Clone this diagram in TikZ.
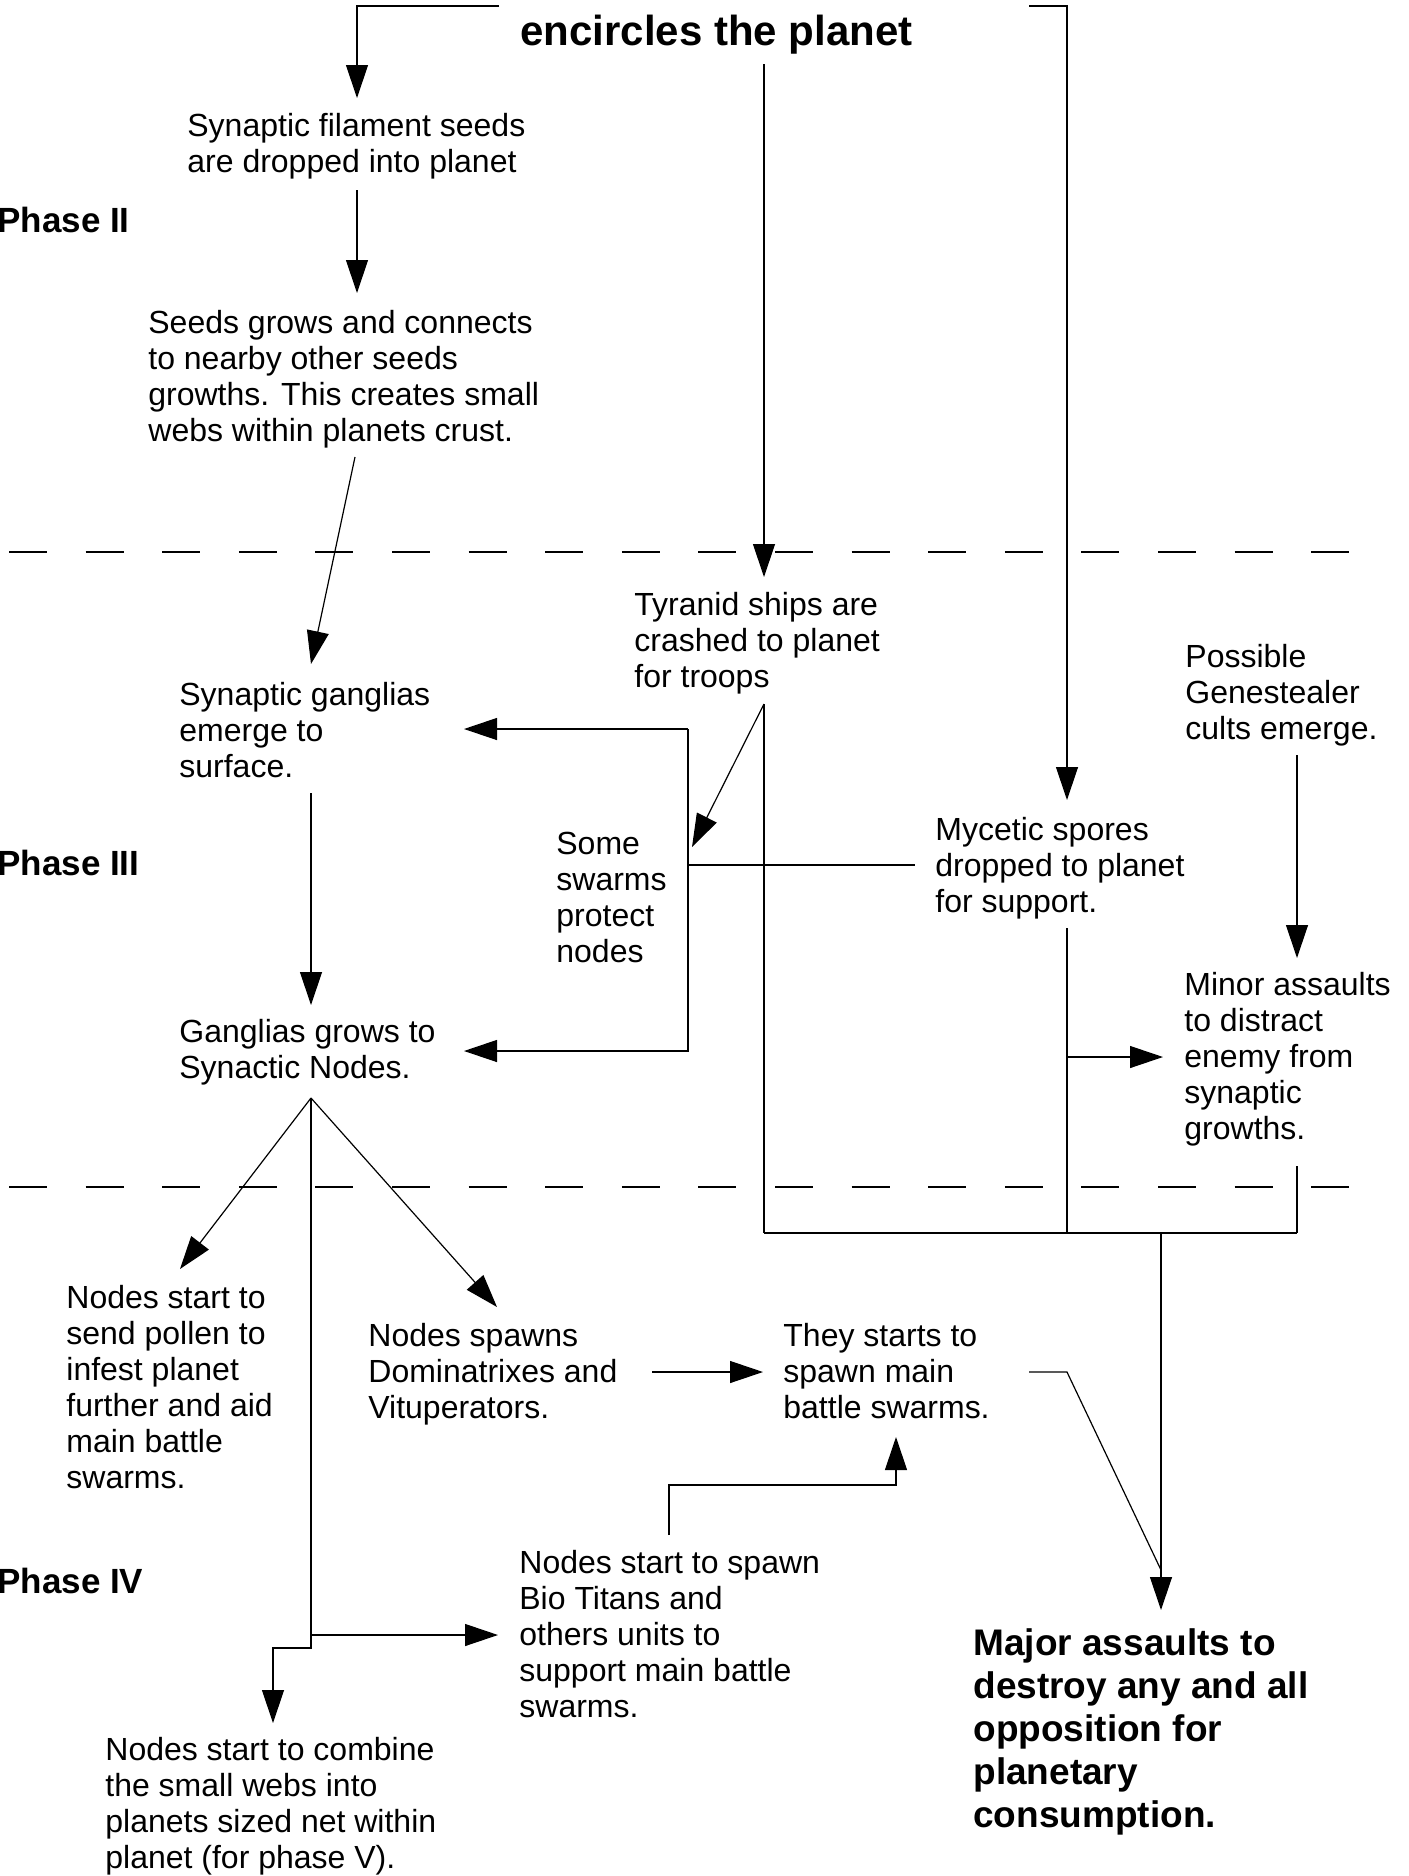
\documentclass[tikz,border=0pt]{standalone}
\usepackage{fontspec}
\setmainfont{Liberation Sans}
\usetikzlibrary{arrows.meta}
\usetikzlibrary{calc}

\tikzset{
  txt/.style={anchor=base west, align=left, inner sep=0pt, font=\fontsize{16}{18}\selectfont},
  bigtxt/.style={anchor=base west, align=left, inner sep=0pt, font=\fontsize{18.5}{21.5}\selectfont\bfseries},
  phaselbl/.style={anchor=base west, inner sep=0pt, font=\fontsize{17.5}{21}\selectfont\bfseries},
  conn/.style={line width=0.6pt},
  arr/.style={conn, -{Triangle[length=16.5pt,width=11pt]}},
  divider/.style={line width=0.6pt, dash pattern=on 19pt off 19.3pt},
}

\begin{document}
\begin{tikzpicture}[x=0.5pt,y=-0.5pt]
\clip (0,0) rectangle (1409,1876);

% phase dividers
\draw[divider] (9,552) -- (1351,552);
\draw[divider] (9,1187) -- (1351,1187);

% labels (placed at the baseline of their last line)
\node[anchor=base west, inner sep=0pt, font=\fontsize{21}{24}\selectfont\bfseries] (title) at (520,45) {encircles the planet};
\node[phaselbl] (phaseii) at (-3,232) {Phase II};
\node[phaselbl] (phaseiii) at (-3,875) {Phase III};
\node[phaselbl] (phaseiv) at (-3,1593) {Phase IV};

\node[txt] (filament) at (187,172) {Synaptic filament seeds\\are dropped into planet};
\node[txt] (seeds) at (148,441) {Seeds grows and connects\\to nearby other seeds\\growths. This creates small\\webs within planets crust.};
\node[txt] (tyranid) at (634,687) {Tyranid ships are\\crashed to planet\\for troops};
\node[txt] (genest) at (1185,739) {Possible\\Genestealer\\cults emerge.};
\node[txt] (ganglia) at (179,777) {Synaptic ganglias\\emerge to\\surface.};
\node[txt] (mycetic) at (935,912) {Mycetic spores\\dropped to planet\\for support.};
\node[txt] (swarms) at (556,962) {Some\\swarms\\protect\\nodes};
\node[txt] (minor) at (1184,1139) {Minor assaults\\to distract\\enemy from\\synaptic\\growths.};
\node[txt] (nodes) at (179,1078) {Ganglias grows to\\Synactic Nodes.};
\node[txt] (pollen) at (66,1488) {Nodes start to\\send pollen to\\infest planet\\further and aid\\main battle\\swarms.};
\node[txt] (spawns) at (368,1418) {Nodes spawns\\Dominatrixes and\\Vituperators.};
\node[txt] (starts) at (783,1418) {They starts to\\spawn main\\battle swarms.};
\node[txt] (titans) at (519,1717) {Nodes start to spawn\\Bio Titans and\\others units to\\support main battle\\swarms.};
\node[bigtxt] (major) at (973,1827) {Major assaults to\\destroy any and all\\opposition for\\planetary\\consumption.};
\node[txt] (combine) at (105,1868) {Nodes start to combine\\the small webs into\\planets sized net within\\planet (for phase V).};

% connector points
\coordinate (t1) at (499,6);   \coordinate (t2) at (357,6);   \coordinate (t3) at (357,98);
\coordinate (m1) at (764,64);  \coordinate (m2) at (764,577);
\coordinate (r1) at (1029,6);  \coordinate (r2) at (1067,6);  \coordinate (r3) at (1067,800);
\coordinate (s1) at (357,190); \coordinate (s2) at (357,293);
\coordinate (g1) at (355,457); \coordinate (g2) at (311,664);
\coordinate (e1) at (311,793); \coordinate (e2) at (311,1005);
\coordinate (ty1) at (764,704); \coordinate (ty2) at (692,847); \coordinate (ty3) at (764,1233);
\coordinate (b1) at (688,729); \coordinate (b2) at (464,729); \coordinate (b3) at (688,1051);
\coordinate (b4) at (464,1051); \coordinate (b5) at (688,865); \coordinate (b6) at (915,865);
\coordinate (my1) at (1067,928); \coordinate (my2) at (1067,1233);
\coordinate (my3) at (1067,1057); \coordinate (my4) at (1163,1057);
\coordinate (gs1) at (1297,755); \coordinate (gs2) at (1297,958);
\coordinate (mi1) at (1297,1166); \coordinate (mi2) at (1297,1233);
\coordinate (f1) at (1161,1233); \coordinate (f2) at (1161,1610);
\coordinate (th1) at (1029,1372); \coordinate (th2) at (1067,1372); \coordinate (th3) at (1161,1570);
\coordinate (ap) at (311,1098); \coordinate (p1) at (180,1269); \coordinate (p2) at (497,1307);
\coordinate (v1) at (311,1648); \coordinate (v2) at (273,1648); \coordinate (v3) at (273,1723);
\coordinate (v4) at (311,1635); \coordinate (v5) at (498,1635);
\coordinate (d1) at (652,1372); \coordinate (d2) at (763,1372);
\coordinate (bt1) at (669,1535); \coordinate (bt2) at (669,1485);
\coordinate (bt3) at (896,1485); \coordinate (bt4) at (896,1437);

% phase II
\draw[arr] (t1) -- (t2) -- (t3);
\draw[arr] (m1) -- (m2);
\draw[arr] (r1) -- (r2) -- (r3);
\draw[arr] (s1) -- (s2);
\draw[arr] (g1) -- (g2);

% phase III
\draw[arr] (e1) -- (e2);
\draw[arr] (ty1) -- (ty2);
\draw[conn] (ty1) -- (ty3);
\draw[arr] (b1) -- (b2);
\draw[arr] (b1) -- (b3) -- (b4);
\draw[conn] (b5) -- (b6);
\draw[conn] (my1) -- (my2);
\draw[arr] (my3) -- (my4);
\draw[arr] (gs1) -- (gs2);
\draw[conn] (mi1) -- (mi2);
\draw[conn] (ty3) -- (mi2);

% phase IV
\draw[arr] (f1) -- (f2);
\draw[conn] (th1) -- (th2) -- (th3);
\draw[arr] (ap) -- (p1);
\draw[arr] (ap) -- (p2);
\draw[arr] (ap) -- (v1) -- (v2) -- (v3);
\draw[arr] (v4) -- (v5);
\draw[arr] (d1) -- (d2);
\draw[arr] (bt1) -- (bt2) -- (bt3) -- (bt4);
\end{tikzpicture}
\end{document}
